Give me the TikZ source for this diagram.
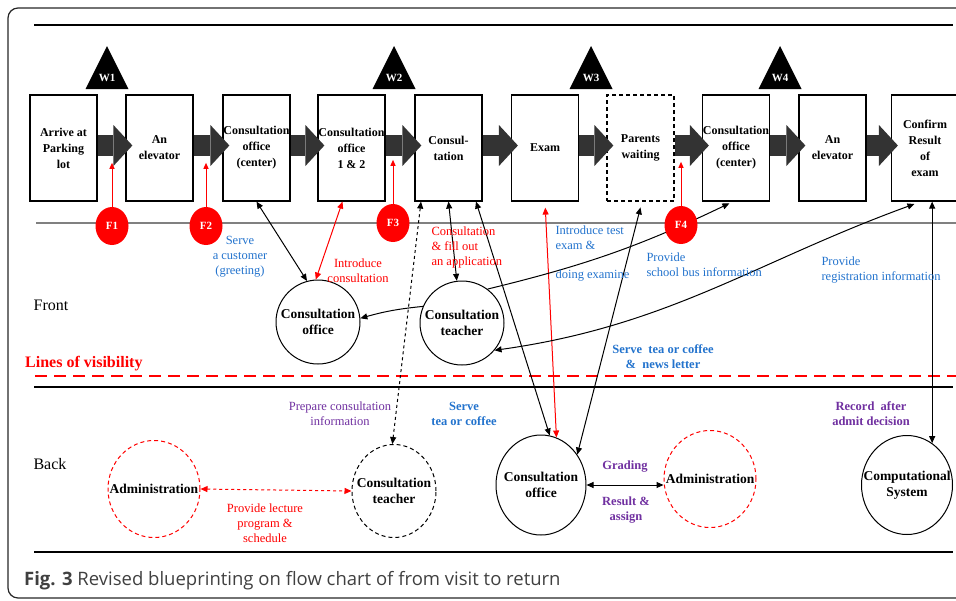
\documentclass[tikz,border=0pt]{standalone}
\usepackage{fontspec}
\setmainfont{Liberation Serif}
\newfontfamily\capfont{Open Sans}
\usetikzlibrary{arrows.meta,positioning,shapes.geometric}
\definecolor{flowgray}{RGB}{51,51,51}
\definecolor{infoblue}{RGB}{35,115,205}
\definecolor{infopurple}{RGB}{112,48,160}
\definecolor{capgray}{RGB}{64,64,64}
\tikzset{
 stepbox/.style={draw,line width=1.2pt,minimum width=67pt,minimum height=106pt,inner sep=0pt,align=center,font=\fontsize{12}{16}\selectfont\bfseries},
 flow/.style={flowgray,line width=21pt,-{Triangle[length=19pt,width=41pt,line width=0pt]}},
 party/.style={draw,ellipse,line width=1pt,fill=white,label={[align=center,font=\fontsize{13.5}{16}\selectfont\bfseries]center:#1}},
 failpt/.style={ellipse,fill=red,minimum width=33pt,minimum height=38pt,inner sep=0pt,text=white,font=\fontsize{11}{13}\selectfont\bfseries},
 note/.style={align=center,font=\fontsize{12.5}{15}\selectfont},
 bnote/.style={align=center,font=\fontsize{12.5}{15}\selectfont\bfseries},
 tip/.style={-{Triangle[length=7pt,width=6pt]}},
 conn/.style={line width=1pt,{Triangle[length=7pt,width=6pt]}-{Triangle[length=7pt,width=6pt]}},
}
\begin{document}
\begin{tikzpicture}[x=1pt,y=-1pt]
\useasboundingbox (0,0) rectangle (956,600);
\draw[line width=1.2pt,black!85,rounded corners=10pt] (8,8) rectangle (975,598);
\draw[line width=2pt] (34,25) -- (953,25);
\draw[line width=2.5pt,gray] (36,223) -- (956,223);
\draw[line width=2pt,red,dash pattern=on 12pt off 7pt] (35,376) -- (956,376);
\draw[line width=2.5pt] (34,387) -- (953,387);
\draw[line width=2.5pt] (34,552) -- (953,552);
% waiting points
\foreach \x/\w in {107/1,394/2,591/3,780/4}{
  \fill (\x,46) -- ++(-21.5,43) -- ++(43,0) -- cycle;
  \node[text=white,font=\fontsize{11}{13}\selectfont\bfseries] (w\w) at (\x,78) {W\w};
}
% process steps
\node[stepbox] (b1) at (63.5,148) {Arrive at\\Parking\\lot};
\node[stepbox] (b2) at (159.5,148) {An\\elevator};
\node[stepbox] (b3) at (256.5,148) {Consultation\\office\\(center)};
\node[stepbox] (b4) at (351.5,148) {Consultation\\office\\1 \& 2};
\node[stepbox] (b5) at (448.5,148) {Consul-\\tation};
\node[stepbox] (b6) at (545,148) {Exam};
\node[stepbox,dashed,dash pattern=on 4pt off 3pt] (b7) at (640.5,148) {Parents\\waiting};
\node[stepbox] (b8) at (736,148) {Consultation\\office\\(center)};
\node[stepbox] (b9) at (832.5,148) {An\\elevator};
\node[stepbox] (b10) at (925,148) {Confirm\\Result\\of\\exam};
\foreach \a/\b in {b1/b2,b2/b3,b3/b4,b4/b5,b5/b6,b6/b7,b7/b8,b8/b9,b9/b10}
  \draw[flow] ([yshift=2.5pt]\a.east) -- ([xshift=7pt,yshift=2.5pt]\b.west);
\node[font=\fontsize{16}{18}\selectfont] (front) at (51,305) {Front};
\node[font=\fontsize{16}{18}\selectfont] (back) at (50,464) {Back};
\node[anchor=west,red,font=\fontsize{16}{18}\selectfont\bfseries,inner sep=0pt] (vis) at (25,364) {Lines of visibility};
% people and systems
\node[party={Consultation\\office},minimum width=84pt,minimum height=84pt] (o1) at (318,322) {};
\node[party={Consultation\\teacher},minimum width=84pt,minimum height=84pt] (t1) at (462,323) {};
\node[party={Consultation\\teacher},dashed,dash pattern=on 4pt off 3pt,minimum width=84pt,minimum height=93pt] (t2) at (394,491) {};
\node[party={Administration},draw=red,dashed,dash pattern=on 4pt off 3pt,minimum width=92pt,minimum height=97pt] (a1) at (154,489) {};
\node[party={Consultation\\office},minimum width=90pt,minimum height=100pt] (o2) at (541,485) {};
\node[party={Administration},draw=red,dashed,dash pattern=on 4pt off 3pt,minimum width=92pt,minimum height=97pt] (a2) at (710,479) {};
\node[party={Computational\\System},minimum width=91pt,minimum height=99pt] (comp) at (907,485) {};
% connectors
\draw[conn] (b3.south) -- (o1.105);
\draw[conn,red] ([xshift=-9pt]b4.south) -- (o1.93);
\draw[conn,dashed] ([xshift=-27.5pt]b5.south) -- (t2.92);
\draw[conn] (b5.south) -- (t1.97);
\draw[conn] ([xshift=27.5pt]b5.south) -- (o2.80);
\draw[conn,red,shorten <=6pt] (b6.south) -- (o2.72);
\draw[conn,shorten <=6pt] ([xshift=1.5pt]b7.south) -- (o2.40);
\draw[line width=1pt,tip] (t1.157) to[bend right=5] (o1.5);
\draw[line width=1pt,tip,shorten >=4pt] (t1.53) to[bend right=6] ([xshift=-3pt]b8.south);
\draw[conn,shorten >=7pt] (t1.-40) to[out=8,in=200] ([xshift=-4pt]b10.south);
\draw[conn] (comp.59) -- (comp.59 |- b10.south);
\draw[conn,red,dashed] (a1.east) -- (t2.west);
\draw[conn] (o2.east) -- (o2.east -| a2.west);
% failure points
\foreach \n/\x/\y in {1/112/226,2/206/226,3/393/223,4/681/225}{
  \node[failpt] (f\n) at (\x,\y) {F\n};
  \draw[red,line width=1pt,-{Triangle[length=6pt,width=5pt]}] (f\n.north) -- ++(0,-44);
}
% actions
\node[note,infoblue] (greet) at (240,256.5) {Serve\\a customer\\(greeting)};
\node[note,red] (introc) at (358,270.5) {Introduce\\consultation};
\node[note,red,align=left,anchor=west] (fill) at (428,247.5) {Consultation\\\& fill out\\an application};
\node[note,infoblue,align=left,anchor=west] (exam) at (552,254) {Introduce test\\exam \&\\[14pt]doing examine};
\node[note,infoblue,align=left,anchor=west] (bus) at (643,264.5) {Provide\\school bus information};
\node[note,infoblue,align=left,anchor=west] (reg) at (818,270.5) {Provide\\registration information};
\node[bnote,infoblue] (news) at (663,357) {Serve\ \ tea or coffee\\\&\ \ news letter};
\node[bnote,infoblue] (tea) at (464,414) {Serve\\tea or coffee};
\node[note,infopurple] (prep) at (340,413.5) {Prepare consultation\\information};
\node[note,red] (lect) at (265,523) {Provide lecture\\program \&\\schedule};
\node[bnote,infopurple] (grade) at (625,467) {Grading};
\node[bnote,infopurple] (res) at (626,510.5) {Result \&\\assign};
\node[bnote,infopurple] (rec) at (871,413.5) {Record\ \ after\\admit decision};
\node[anchor=base west,inner sep=0pt,text=capgray,font=\capfont\fontsize{18.5}{22}\selectfont] (cap) at (24,585) {\textbf{Fig. 3} Revised blueprinting on flow chart of from visit to return};
\end{tikzpicture}
\end{document}
